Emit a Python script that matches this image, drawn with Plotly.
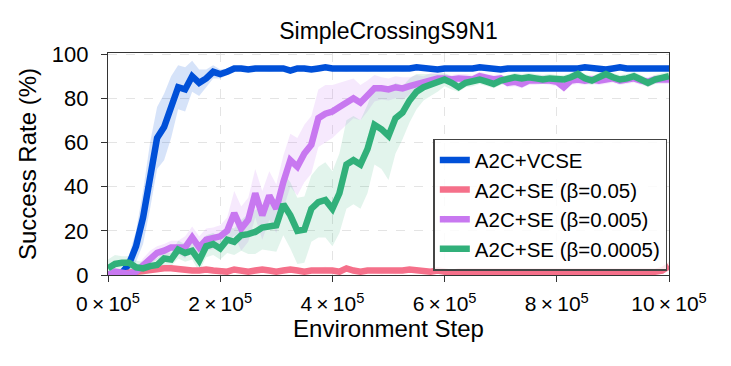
import plotly.graph_objects as go
import numpy as np

steps = [i * 12500 for i in range(81)]

vcse_mean = [0, 0.5, 1, 5, 13, 26, 45, 62, 67, 76, 85, 84, 90, 87, 89, 92, 91, 92, 93.5, 93.5,
             93, 93.5, 93.5, 93, 93.5, 93.5, 92.5, 93.5, 93.5, 93, 93.5, 94, 93.5, 93.5, 93, 93.5, 93.5, 93, 93.5, 93,
             93.5, 93.5, 93, 93.5, 94, 93.5, 93.5, 93, 93.5, 93.5, 93.5, 93, 93.5, 94, 93.5, 93.5, 93, 93.5, 93.5, 93.5,
             93.5, 93.5, 93, 93.5, 93.5, 93.5, 93, 93.5, 94, 93.5, 93.5, 93, 93.5, 94, 93.5, 93.5, 93.5, 93, 93.5, 93.5, 93.5]
vcse_std = [0, 1, 2, 4, 7, 12, 15, 14, 15, 14, 10, 10, 7, 6, 4, 3, 2, 1.5, 1, 1] + [1] * 61

se005_mean = [0, 0, 0.5, 1, 1.5, 2, 2.5, 2.5, 3, 3, 2.5, 2.5, 2, 2, 2.5, 2, 2, 1.5, 2.5, 2,
              1.5, 2, 2.5, 2, 1.5, 2, 2.5, 2, 1.5, 2, 2, 2.5, 2, 1.5, 3, 2, 1.5, 2, 2, 1.5,
              2, 1.5, 2, 2.5, 2, 1.5, 1.5, 2, 1.5, 1, 1.5, 1.5, 1, 1.5, 1, 1, 1, 1.5, 1, 1,
              1, 1.5, 1, 1, 1.5, 1, 1, 1, 1.5, 1, 1, 1, 1.5, 1, 1, 1, 1.5, 1, 1.5, 2, 4]
se005_std = [0.5] * 3 + [1.2] * 76 + [1.5, 2]

se0005_mean = [0, 1.5, 1, 0.5, 1.5, 4.5, 8, 10, 11, 12.5, 12.5, 12.5, 17, 12.5, 16, 16.5, 17.5, 20, 28, 21,
               25, 37, 27, 36, 30, 42, 52, 49, 55, 59, 71, 73, 74, 76, 78, 80, 78, 81, 84.5, 84.5,
               84, 85, 84.5, 85.5, 86.5, 87, 88.5, 89, 89, 88.5, 89, 89, 88.5, 90, 89, 88.5, 89, 87, 87.5, 86.5,
               88, 88, 88.5, 88, 87.5, 85, 88, 88.5, 88, 88.5, 88, 88.5, 89, 88, 88.5, 89, 88, 87.5, 88.5, 88.5, 88.5]
se0005_std = [1, 1, 1, 1, 1, 3, 3, 3, 3, 3, 3, 5, 5, 5, 5, 5, 5, 6, 10, 10,
              10, 11, 11, 11, 11, 12, 12, 13, 13, 13, 13, 13, 12, 11, 10, 9, 8, 7, 6, 5,
              5, 5, 5, 4, 4, 3, 3, 2.5] + [2] * 33

se00005_mean = [3, 5, 5.5, 5.5, 3.5, 3, 4, 4.5, 7.5, 7, 11.5, 10, 11, 6.5, 13, 14, 12, 16, 15, 18,
                18.5, 19.5, 21.5, 22, 22.5, 32, 27, 20, 20.5, 30, 33, 34, 30, 37, 50, 52, 50, 57, 68, 66,
                63, 71, 73.5, 79, 83, 85, 86, 87, 88.5, 87, 85, 87, 87.5, 88.5, 87.5, 86.5, 88, 88.5, 89.5, 89,
                89.5, 89, 88.5, 89, 88.5, 88.5, 89.5, 91, 89, 88, 89.5, 91, 89.5, 88.5, 89, 90, 88.5, 87, 88.5, 89.5, 90]
se00005_std = [4, 4, 3, 3, 3, 3, 3, 3, 3, 3, 4, 4, 4, 5, 5, 5, 5, 6, 6, 7,
               9, 10, 10, 11, 12, 14, 15, 15, 15, 15, 16, 17, 17, 18, 20, 20, 20, 20, 18, 18,
               20, 16, 12, 10, 8, 6, 5, 4, 3, 3] + [2] * 31

labels = ["A2C+VCSE", "A2C+SE (β=0.05)", "A2C+SE (β=0.005)", "A2C+SE (β=0.0005)"]
colors = ["#0050d8", "#f5708a", "#c878f0", "#31b07a"]
fills = ["rgba(0,80,216,0.16)", "rgba(245,112,138,0.16)", "rgba(200,120,240,0.16)", "rgba(49,176,122,0.14)"]
means = [vcse_mean, se005_mean, se0005_mean, se00005_mean]
stds = [vcse_std, se005_std, se0005_std, se00005_std]

xtick_vals = [0, 200000, 400000, 600000, 800000, 1000000]
xtick_text = [f"{k}\u2009×\u200910<sup>5</sup>" for k in [0, 2, 4, 6, 8, 10]]
ytick_vals = [0, 20, 40, 60, 80, 100]

fig = go.Figure()
for m, s, f in zip(means, stds, fills):
    m = np.array(m, dtype=float)
    s = np.array(s, dtype=float)
    hi = np.clip(m + s, 0, 100)
    lo = np.clip(m - s, 0, 100)
    fig.add_trace(go.Scatter(x=steps + steps[::-1], y=list(hi) + list(lo[::-1]), fill="toself",
                             fillcolor=f, line=dict(width=0), mode="lines", showlegend=False,
                             hoverinfo="skip"))
for m, c, lab in zip(means, colors, labels):
    fig.add_trace(go.Scatter(x=steps, y=m, mode="lines", name=lab,
                             line=dict(color=c, width=6.5, shape="linear")))

font = "Liberation Sans, Arial, sans-serif"
fig.update_layout(
    width=723, height=358,
    margin=dict(l=100, r=62, t=45, b=91),
    paper_bgcolor="white", plot_bgcolor="white",
    title=dict(text="SimpleCrossingS9N1", x=0.5, xref="paper", xanchor="center",
               yref="container", y=0.935, yanchor="middle",
               font=dict(family=font, size=23, color="black")),
    font=dict(family=font, color="black"),
    showlegend=True,
    legend=dict(x=0.997, y=0.02, xanchor="right", yanchor="bottom",
                bgcolor="rgba(255,255,255,0.85)", bordercolor="#444444", borderwidth=1.5,
                font=dict(family=font, size=20.5, color="black"), tracegroupgap=0,
                itemwidth=30),
)
fig.update_xaxes(range=[0, 1000000], tickvals=xtick_vals, ticktext=xtick_text,
                 tickfont=dict(size=21, family=font), ticks="outside", ticklen=6, tickcolor="#333",
                 ticklabelstandoff=4,
                 showline=True, linecolor="#333", linewidth=1.3, mirror=True,
                 showgrid=True, gridcolor="#e4e4e4", griddash="dash", gridwidth=1, zeroline=False,
                 title=dict(text="Environment Step", font=dict(size=24, family=font), standoff=4))
fig.update_yaxes(range=[0, 100.5], tickvals=ytick_vals,
                 tickfont=dict(size=22, family=font), ticks="outside", ticklen=6, tickcolor="#333",
                 ticklabelstandoff=8,
                 showline=True, linecolor="#333", linewidth=1.3, mirror=True,
                 showgrid=True, gridcolor="#e4e4e4", griddash="dash", gridwidth=1, zeroline=False,
                 title=dict(text="Success Rate (%)", font=dict(size=24, family=font), standoff=8))

fig.write_html("out.html")
